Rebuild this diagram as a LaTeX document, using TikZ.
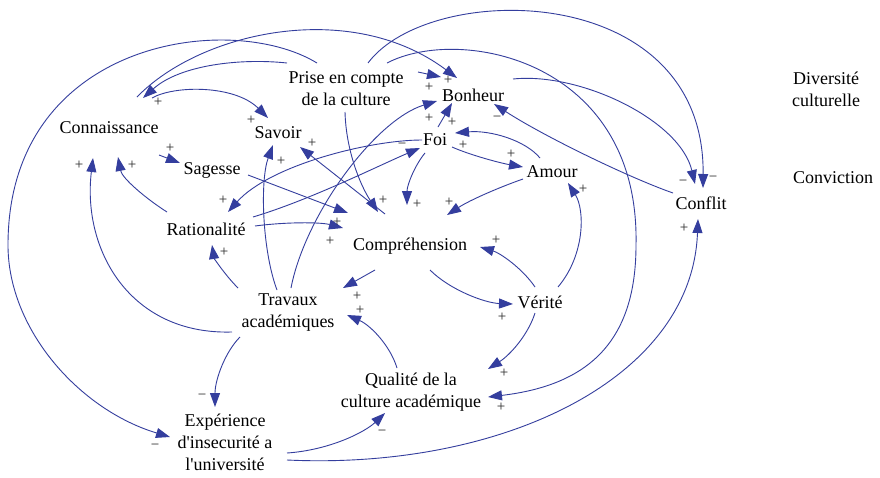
\documentclass[tikz,border=0pt]{standalone}
\usepackage{fontspec}
\setmainfont{Liberation Serif}[Ligatures=TeXOff]
\usetikzlibrary{arrows.meta,calc}
\definecolor{linkblue}{RGB}{52,62,158}
\begin{document}
\begin{tikzpicture}[x=1pt,y=-1pt,
  lab/.style={font=\fontsize{18}{22}\selectfont, align=center, inner sep=0pt},
  sgn/.style={font=\fontsize{15}{17}\selectfont, text=black!85, inner sep=0pt},
  lnk/.style={draw=linkblue, line width=0.9pt, -{Triangle[length=14pt,width=10pt]}}]
\fill[white] (0,0) rectangle (880,477);
\useasboundingbox (0,0) rectangle (880,477);
% nodes
\node[lab] (prise) at (346,89) {Prise en compte\\de la culture};
\node[lab] (bon) at (473,95) {Bonheur};
\node[lab] (div) at (826,89) {Diversité\\culturelle};
\node[lab] (conn) at (109,128) {Connaissance};
\node[lab] (sav) at (278,133) {Savoir};
\node[lab] (foi) at (435,140) {Foi};
\node[lab] (sag) at (212,170) {Sagesse};
\node[lab] (amour) at (552,172) {Amour};
\node[lab] (conv) at (833,178) {Conviction};
\node[lab] (confl) at (701,203) {Conflit};
\node[lab] (rat) at (206,229) {Rationalité};
\node[lab] (comp) at (410,246) {Compréhension};
\node[lab] (trav) at (288,313) {Travaux\\académiques};
\node[lab] (verite) at (540,302) {Vérité};
\node[lab] (qual) at (411,392) {Qualité de la\\culture académique};
\node[lab] (exp) at (225,442) {Expérience\\d'insecurité a\\l'université};
% connectors
\draw[lnk] ($(conn)+(28,-31)$) .. controls (200,32) and (350,-2) .. ($(bon)+(-16,-17)$);
\draw[lnk] ($(prise)+(-59,-26)$) .. controls (240,58) and (180,65) .. ($(conn)+(34,-30)$);
\draw[lnk] ($(prise)+(-29,-26)$) .. controls (230,10) and (8,40) .. (8,245) .. controls (8,330) and (80,410) .. ($(exp)+(-55,-5)$);
\draw[lnk] ($(conn)+(43,-30)$) .. controls (175,85) and (235,85) .. ($(sav)+(-10,-15)$);
\draw[lnk] ($(prise)+(72,-17)$) -- ($(bon)+(-32,-18)$);
\draw[lnk] ($(prise)+(22,-26)$) .. controls (430,-20) and (705,-20) .. ($(confl)+(2,-15)$);
\draw[lnk] ($(prise)+(41,-26)$) .. controls (460,25) and (640,60) .. (636,245) .. controls (636,340) and (590,385) .. ($(qual)+(77,5)$);
\draw[lnk] ($(bon)+(40,-16)$) .. controls (580,72) and (680,120) .. ($(confl)+(-6,-19)$);
\draw[lnk] ($(confl)+(-28,-10)$) .. controls (630,178) and (545,137) .. ($(bon)+(21,9)$);
\draw[lnk] ($(exp)+(62,18)$) .. controls (500,470) and (692,380) .. ($(confl)+(-3,16)$);
\draw[lnk] ($(exp)+(62,11)$) .. controls (330,450) and (365,432) .. ($(qual)+(-26,21)$);
\draw[lnk] ($(trav)+(-48,24)$) .. controls (225,352) and (215,380) .. ($(exp)+(-10,-35)$);
\draw[lnk] ($(trav)+(-56,19)$) .. controls (130,335) and (82,250) .. ($(conn)+(-16,30)$);
\draw[lnk] ($(rat)+(-39,-17)$) .. controls (145,198) and (122,178) .. ($(conn)+(9,29)$);
\draw[lnk] ($(conn)+(50,27)$) -- ($(sag)+(-32,-7)$);
\draw[lnk] ($(trav)+(-50,-25)$) .. controls (225,275) and (214,258) .. ($(rat)+(6,16)$);
\draw[lnk] ($(trav)+(-11,-23)$) .. controls (262,250) and (260,180) .. ($(sav)+(-5,12)$);
\draw[lnk] ($(trav)+(3,-25)$) .. controls (305,215) and (375,120) .. ($(bon)+(-36,6)$);
\draw[lnk] ($(foi)+(3,-13)$) -- ($(bon)+(-21,8)$);
\draw[lnk] ($(foi)+(-13,0)$) .. controls (370,140) and (270,165) .. ($(rat)+(22,-17)$);
\draw[lnk] ($(rat)+(47,-12)$) .. controls (310,200) and (380,165) .. ($(foi)+(-15,8)$);
\draw[lnk] ($(rat)+(49,-3)$) .. controls (285,222) and (320,222) .. ($(comp)+(-67,-18)$);
\draw[lnk] ($(sag)+(36,5)$) -- ($(comp)+(-62,-33)$);
\draw[lnk] ($(prise)+(-1,23)$) .. controls (346,150) and (360,185) .. ($(comp)+(-32,-34)$);
\draw[lnk] ($(comp)+(-25,-32)$) -- ($(sav)+(22,14)$);
\draw[lnk] ($(foi)+(-10,13)$) .. controls (415,165) and (407,185) .. ($(comp)+(-3,-41)$);
\draw[lnk] ($(amour)+(-29,7)$) .. controls (500,187) and (470,200) .. ($(comp)+(37,-31)$);
\draw[lnk] ($(amour)+(-12,-14)$) .. controls (525,140) and (490,130) .. ($(foi)+(20,-7)$);
\draw[lnk] ($(foi)+(17,7)$) .. controls (470,155) and (500,163) .. ($(amour)+(-29,-5)$);
\draw[lnk] ($(comp)+(-35,24)$) -- ($(trav)+(55,-25)$);
\draw[lnk] ($(qual)+(-14,-24)$) .. controls (390,345) and (370,325) .. ($(trav)+(59,2)$);
\draw[lnk] ($(comp)+(20,24)$) .. controls (450,290) and (485,303) .. ($(verite)+(-27,2)$);
\draw[lnk] ($(verite)+(-5,-15)$) .. controls (522,268) and (500,253) .. ($(comp)+(70,1)$);
\draw[lnk] ($(verite)+(18,-15)$) .. controls (585,255) and (585,210) .. ($(amour)+(16,11)$);
\draw[lnk] ($(verite)+(-5,11)$) .. controls (528,335) and (510,355) .. ($(qual)+(77,-23)$);
% polarity signs
\node[sgn] (s1) at (158,102) {+};
\node[sgn] (s2) at (251,120) {+};
\node[sgn] (s3) at (155,447) {−};
\node[sgn] (s4) at (448,80) {+};
\node[sgn] (s5) at (429,87) {+};
\node[sgn] (s6) at (683,183) {−};
\node[sgn] (s7) at (713,179) {−};
\node[sgn] (s8) at (684,228) {+};
\node[sgn] (s9) at (497,119) {−};
\node[sgn] (s10) at (429,118) {+};
\node[sgn] (s11) at (452,122) {+};
\node[sgn] (s12) at (281,161) {+};
\node[sgn] (s13) at (312,143) {+};
\node[sgn] (s14) at (402,146) {−};
\node[sgn] (s15) at (223,200) {+};
\node[sgn] (s16) at (132,165) {+};
\node[sgn] (s17) at (79,165) {+};
\node[sgn] (s18) at (170,148) {+};
\node[sgn] (s19) at (224,252) {+};
\node[sgn] (s20) at (202,397) {−};
\node[sgn] (s21) at (382,433) {−};
\node[sgn] (s22) at (357,296) {+};
\node[sgn] (s23) at (360,310) {+};
\node[sgn] (s24) at (383,200) {+};
\node[sgn] (s25) at (417,204) {+};
\node[sgn] (s26) at (449,202) {+};
\node[sgn] (s27) at (337,222) {+};
\node[sgn] (s28) at (330,241) {+};
\node[sgn] (s29) at (463,145) {+};
\node[sgn] (s30) at (511,154) {+};
\node[sgn] (s31) at (583,189) {+};
\node[sgn] (s32) at (496,240) {+};
\node[sgn] (s33) at (502,317) {+};
\node[sgn] (s34) at (504,373) {+};
\node[sgn] (s35) at (501,407) {+};
\end{tikzpicture}
\end{document}
